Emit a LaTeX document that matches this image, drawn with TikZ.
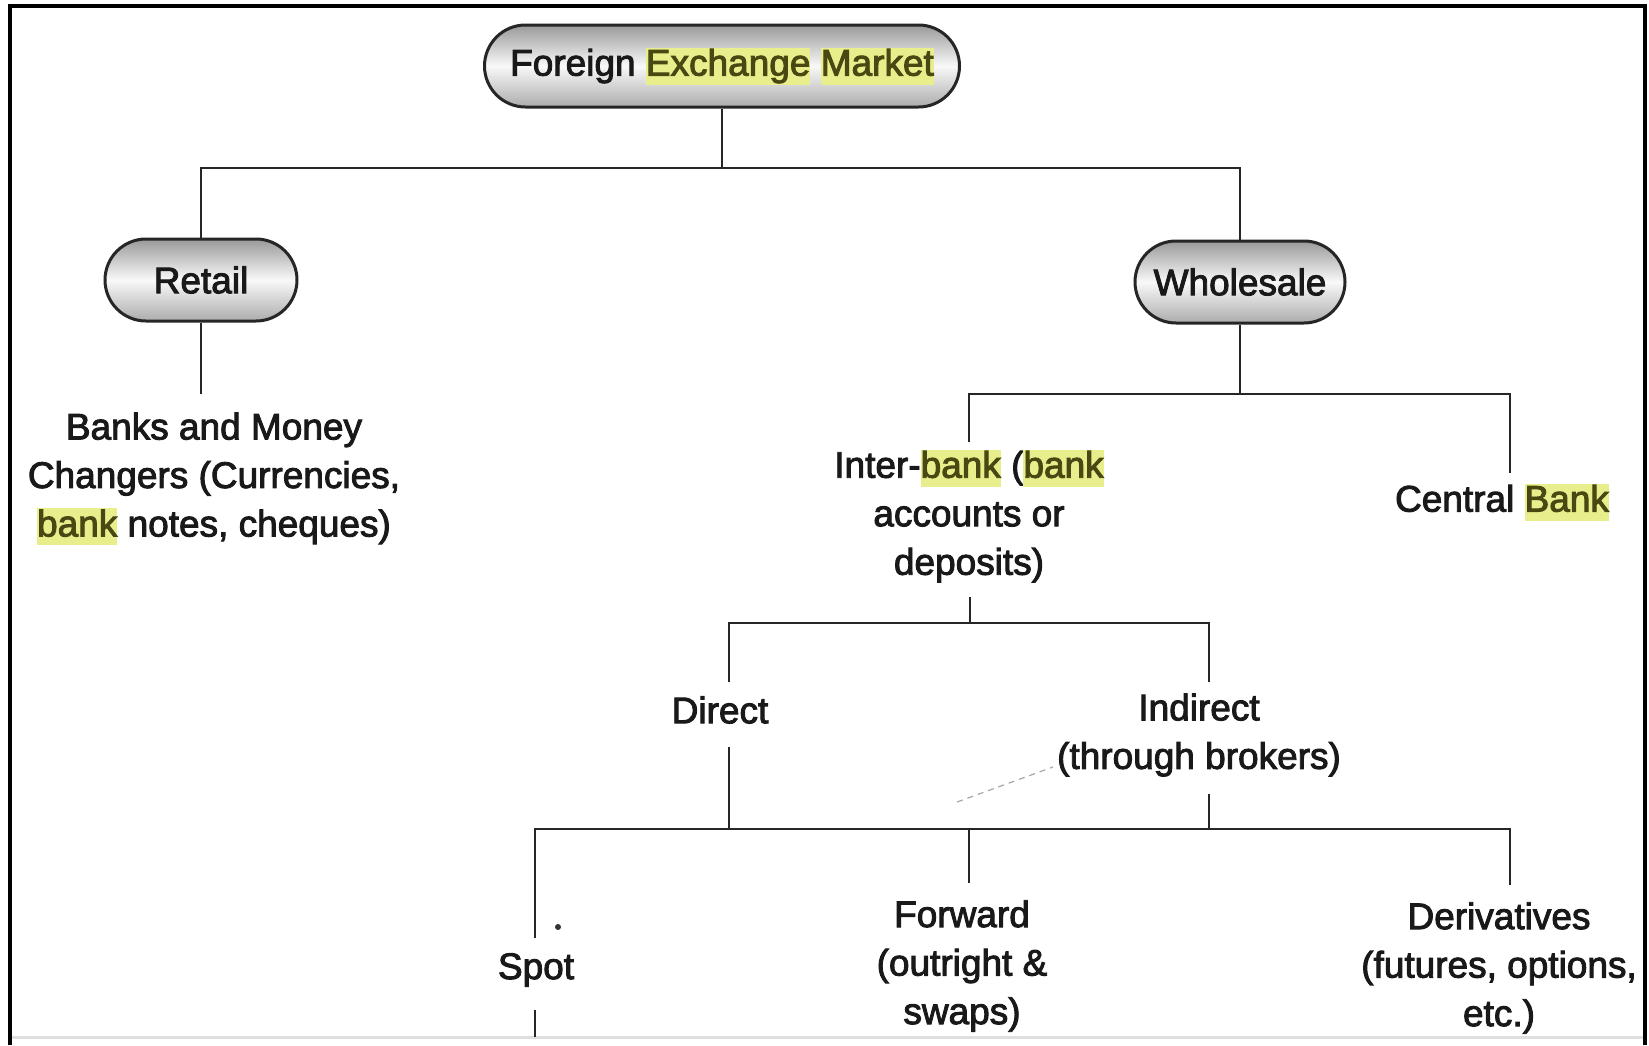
\documentclass[tikz,border=0pt]{standalone}
\usepackage{fontspec}
\setmainfont{Liberation Sans}
\newfontfamily\dfont{Liberation Sans}[FakeBold=2.5]
\usetikzlibrary{shapes.misc}
\definecolor{hlbg}{RGB}{232,238,140}
\definecolor{hlfg}{RGB}{72,72,18}
\newcommand\hlword[1]{{\setlength{\fboxsep}{0pt}\colorbox{hlbg}{\textcolor{hlfg}{\rule[-0.24em]{0pt}{1.0em}#1}}}}
\begin{document}
\begin{tikzpicture}[x=1pt,y=-1pt,
  pill/.style={rounded rectangle, draw=black!85, line width=3pt,
    top color=gray!80, bottom color=gray!65, middle color=gray!5,
    minimum height=82pt, inner sep=0pt, text=black!90,
    font=\dfont\fontsize{37}{48.5}\selectfont},
  txt/.style={inner sep=0pt, align=center, text=black!90,
    font=\dfont\fontsize{37}{48.5}\selectfont},
  conn/.style={draw=black!85, line width=2.5pt}]
\useasboundingbox (0,0) rectangle (1649,1045);
\fill[white] (0,0) rectangle (1649,1045);
% frame
\draw[line width=4pt] (10,1045) -- (10,6) -- (1645,6) -- (1645,1045);
\draw[gray!25, line width=3pt] (12,1037) -- (1643,1037);

% nodes
\node[pill, minimum width=475pt] (fem) at (722,66) {Foreign \hlword{Exchange} \hlword{Market}};
\node[pill, minimum width=192pt] (retail) at (201,280) {Retail};
\node[pill, minimum width=210pt] (wholesale) at (1240,282) {Wholesale};

\node[txt] (banks) at (214,479) {Banks and Money\\Changers (Currencies,\\\hlword{bank} notes, cheques)};
\node[txt] (interbank) at (969,516) {Inter-\hlword{bank} (\hlword{bank}\\accounts or\\deposits)};
\node[txt] (central) at (1502,502) {Central \hlword{Bank}};
\node[txt] (direct) at (720,710) {Direct};
\node[txt] (indirect) at (1199,735) {Indirect\\(through brokers)};
\node[txt] (spot) at (536,970) {Spot};
\node[txt] (forward) at (962,966) {Forward\\(outright \&\\swaps)};
\node[txt] (deriv) at (1499,968) {Derivatives\\(futures, options,\\etc.)};

% coordinates
\coordinate (b1) at (0,168);
\coordinate (b2) at (0,394);
\coordinate (b3) at (0,623);
\coordinate (b4) at (0,829);
\coordinate (ibn) at (969,442);
\coordinate (cbn) at (1510,473);
\coordinate (ibs) at (970,597);
\coordinate (drn) at (729,682);
\coordinate (inn) at (1209,682);
\coordinate (drs) at (729,747);
\coordinate (ins) at (1209,794);
\coordinate (spn) at (535,938);
\coordinate (fwn) at (969,883);
\coordinate (dvn) at (1510,885);
\coordinate (sps) at (535,1010);
\coordinate (spb) at (535,1037);

% connectors
\draw[conn] (fem.south) -- (fem.south |- b1);
\draw[conn] (retail.north) |- (b1 -| wholesale.north) -- (wholesale.north);
\draw[conn] (retail.south) -- (retail.south |- b2);
\draw[conn] (wholesale.south) -- (wholesale.south |- b2);
\draw[conn] (ibn) |- (b2 -| cbn) -- (cbn);
\draw[conn] (ibs) -- (ibs |- b3);
\draw[conn] (drn) |- (b3 -| inn) -- (inn);
\draw[conn] (drs) -- (drs |- b4);
\draw[conn] (ins) -- (ins |- b4);
\draw[conn] (spn) |- (b4 -| dvn) -- (dvn);
\draw[conn] (fwn) -- (fwn |- b4);
\draw[conn] (sps) -- (spb);

% scan marks
\draw[gray!70, line width=1.2pt, dash pattern=on 6pt off 5pt] (957,802) -- (1053,767);
\fill[black!80] (558,927) circle (3pt);
\end{tikzpicture}
\end{document}
